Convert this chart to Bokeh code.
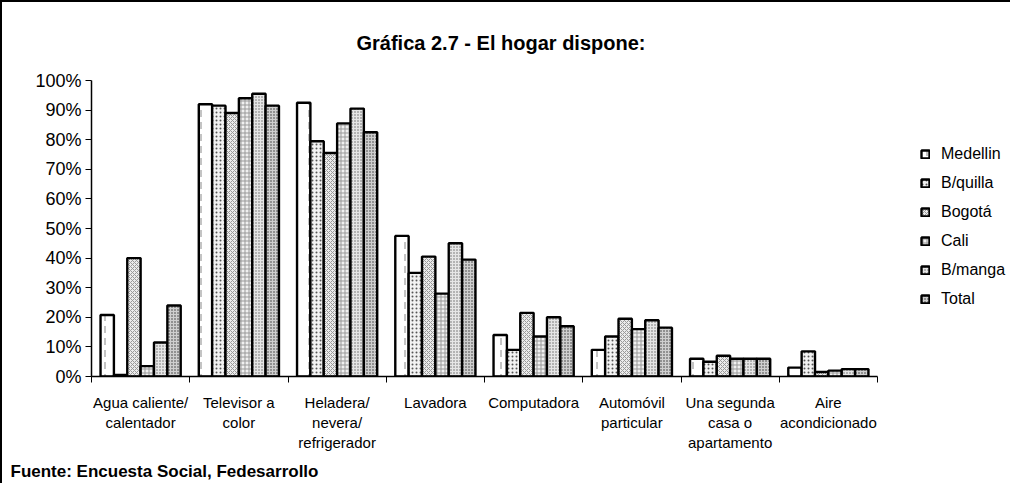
from bokeh.plotting import figure
from bokeh.models import (ColumnDataSource, Range1d, FixedTicker, Legend, LegendItem,
                          Title, NumeralTickFormatter)
from bokeh.transform import dodge
from bokeh.embed import file_html
from bokeh.resources import INLINE

categories = ["Agua caliente/\ncalentador", "Televisor a\ncolor",
              "Heladera/\nnevera/\nrefrigerador", "Lavadora", "Computadora",
              "Automóvil\nparticular", "Una segunda\ncasa o\napartamento",
              "Aire\nacondicionado"]
series = ["Medellin", "B/quilla", "Bogotá", "Cali", "B/manga", "Total"]
medellin = [20.8, 92.0, 92.5, 47.5, 14.0, 9.0, 6.0, 3.0]
bquilla = [0.5, 91.5, 79.5, 35.0, 9.0, 13.5, 5.0, 8.5]
bogota = [40.0, 89.0, 75.5, 40.5, 21.5, 19.5, 7.0, 1.5]
cali = [3.5, 94.0, 85.5, 28.0, 13.5, 16.0, 6.0, 2.0]
bmanga = [11.5, 95.5, 90.5, 45.0, 20.0, 19.0, 6.0, 2.5]
total = [24.0, 91.5, 82.5, 39.5, 17.0, 16.5, 6.0, 2.5]
y_ticks = [0, 10, 20, 30, 40, 50, 60, 70, 80, 90, 100]

values = [medellin, bquilla, bogota, cali, bmanga, total]
ncat = len(categories)
centers = [i + 0.5 for i in range(ncat)]

data = {"xc": centers}
for name, vals in zip(series, values):
    data[name] = [v / 100.0 for v in vals]
src = ColumnDataSource(data)

FONT = "Liberation Sans"

W, H = 1010, 483
LEFT, RIGHT = 89, 5
frame_w = W - LEFT - RIGHT
x_end = ncat * frame_w / 786.0   # bar area is 786 px wide

p = figure(width=W, height=H, output_backend="svg", toolbar_location=None,
           x_range=Range1d(0, x_end), y_range=Range1d(0, 1),
           min_border_left=LEFT, min_border_right=RIGHT, min_border_top=78,
           min_border_bottom=40, background_fill_color="white",
           border_fill_color="white", outline_line_color=None)
p.styles = {"border-left": "2px solid black", "border-top": "2px solid black"}

title = Title(text="Gráfica 2.7 - El hogar dispone:", align="left", offset=265,
              text_font=FONT, text_font_size="20px", text_font_style="bold",
              text_color="black", standoff=54)
p.add_layout(title, "above")

p.grid.visible = False

styles = [
    dict(fill_color="white", hatch_pattern=":", hatch_color="#888888", hatch_scale=12),
    dict(fill_color="#f2f2f2", hatch_pattern=".", hatch_color="#555555", hatch_scale=4),
    dict(fill_color="#ececec", hatch_pattern="x", hatch_color="#999999", hatch_scale=4),
    dict(fill_color="#f0f0f0", hatch_pattern="+", hatch_color="#999999", hatch_scale=4),
    dict(fill_color="#e6e6e6", hatch_pattern=".", hatch_color="#666666", hatch_scale=3),
    dict(fill_color="#cfcfcf", hatch_pattern=".", hatch_color="#333333", hatch_scale=3),
]

bw = 0.136
items = []
for k, name in enumerate(series):
    off = (k - 2.5) * bw
    r = p.vbar(x=dodge("xc", off), top=name, width=bw, bottom=0, source=src,
               line_color="black", line_width=2.4, **styles[k])
    items.append(LegendItem(label=name, renderers=[r]))

legend = Legend(items=items, location=(829, 68), border_line_color=None,
                background_fill_alpha=0, label_text_font=FONT,
                label_text_font_size="16px", label_text_color="black",
                glyph_width=10, glyph_height=10,
                spacing=11, label_standoff=11, padding=0, margin=0)
p.add_layout(legend, "center")

# y axis
ya = p.yaxis[0]
ya.ticker = FixedTicker(ticks=[t / 100.0 for t in y_ticks])
ya.formatter = NumeralTickFormatter(format="0%")
ya.major_label_text_font = FONT
ya.major_label_text_font_size = "18px"
ya.major_label_text_color = "black"
ya.major_tick_out = 6
ya.major_tick_in = 0
ya.minor_tick_line_color = None
ya.axis_line_width = 1.5
ya.major_label_standoff = 4

# x axis
xa = p.xaxis[0]
xa.bounds = (0, ncat)
xa.ticker = FixedTicker(ticks=centers, minor_ticks=list(range(ncat + 1)))
xa.major_label_overrides = {c: lab for c, lab in zip(centers, categories)}
xa.major_tick_out = 0
xa.major_tick_in = 0
xa.minor_tick_out = 6
xa.minor_tick_in = 0
xa.minor_tick_line_color = "black"
xa.axis_line_width = 1.5
xa.major_label_text_font = FONT
xa.major_label_text_font_size = "15px"
xa.major_label_text_color = "black"
xa.major_label_standoff = 11

foot = Title(text="Fuente: Encuesta Social, Fedesarrollo", align="left", offset=-81,
             text_font=FONT, text_font_size="17px", text_font_style="bold",
             text_color="black")
p.add_layout(foot, "below")

open("out.html", "w").write(file_html(p, INLINE))
